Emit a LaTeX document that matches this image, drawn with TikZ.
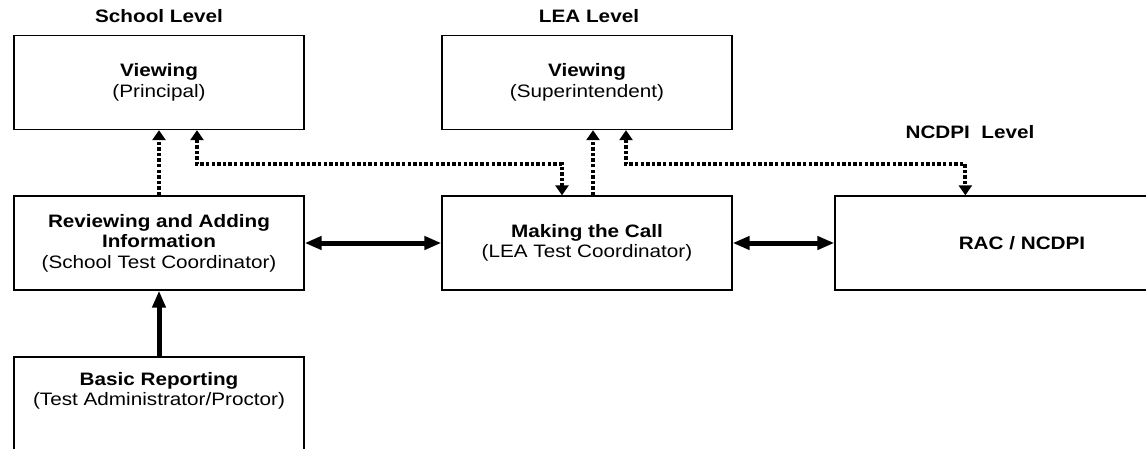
\documentclass[tikz,border=0pt]{standalone}
\usepackage{fontspec}
\setmainfont{Liberation Sans}[FakeStretch=1.15]
\usetikzlibrary{arrows.meta,calc}
\begin{document}
\begin{tikzpicture}[x=1pt,y=1pt,
  box/.style={draw=black,line width=1.3pt,minimum width=290pt,minimum height=94pt,inner sep=0pt,align=center,font=\fontsize{18}{20.5}\selectfont},
  lvl/.style={font=\fontsize{18}{20.5}\selectfont\bfseries,inner sep=0pt},
  stip/.tip={Triangle[length=17pt,width=13pt]},
  dtip/.tip={Triangle[length=10pt,width=13pt]},
  solidarrow/.style={line width=5pt,stip-stip},
  solidup/.style={line width=5pt,-stip},
  dotline/.style={line width=4pt,dash pattern=on 3.4pt off 2.2pt},
  dotone/.style={dotline,-dtip},
  dottwo/.style={dotline,dtip-dtip}
]
\useasboundingbox (0,0) rectangle (1146,-448);
\clip (0,0) rectangle (1146,-448);

\node[lvl] (lsch) at (159,-16) {School Level};
\node[lvl] (llea) at (589,-16) {LEA Level};
\node[lvl] (lnc) at (970,-132) {NCDPI\ \ Level};

\node[box] (sv) at (159,-82.5) {\textbf{Viewing}\\(Principal)};
\node[box] (lv) at (587,-82.5) {\textbf{Viewing}\\(Superintendent)};
\node[box] (rv) at (159,-243) {\textbf{Reviewing and Adding}\\\textbf{Information}\\(School Test Coordinator)};
\node[box] (mc) at (587,-243) {\textbf{Making the Call}\\(LEA Test Coordinator)};
\node[box] (br) at (159,-404) {\textbf{Basic Reporting}\\(Test Administrator/Proctor)\\[10pt]};
\node[draw=black,line width=1.3pt,minimum width=380pt,minimum height=94pt,inner sep=0pt] (rac) at (1025,-243) {};
\node[font=\fontsize{18}{20.5}\selectfont\bfseries] (ract) at (1022,-243) {RAC / NCDPI};

\coordinate (a1) at ([xshift=38pt]sv.south);
\coordinate (a2) at ([xshift=-25pt]mc.north);
\coordinate (b1) at ([xshift=39pt]lv.south);
\coordinate (b2) at ([xshift=131pt]rac.north west);
\coordinate (m1) at ([xshift=6pt]mc.north);
\coordinate (m2) at ([xshift=6pt]lv.south);

\draw[dotone] (rv.north) -- (sv.south);
\draw[dottwo] (a1) -- ++(0,-34) -| (a2);
\draw[dotone] (m1) -- (m2);
\draw[dottwo] (b1) -- ++(0,-34) -| (b2);

\draw[solidarrow] (rv.east) -- (mc.west);
\draw[solidarrow] (mc.east) -- (rac.west);
\draw[solidup] (br.north) -- (rv.south);
\end{tikzpicture}
\end{document}
